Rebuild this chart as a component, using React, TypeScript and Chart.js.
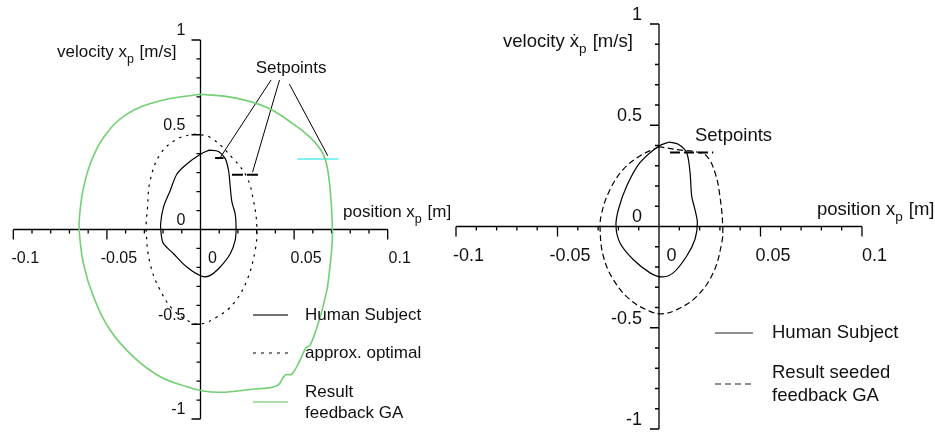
import React, { useEffect, useRef } from 'react';
import { Chart, registerables } from 'chart.js';
Chart.register(...registerables);

// ---------- axes ----------
const X_MIN = -0.1;
const X_MAX = 0.1;
const Y_MIN = -1;
const Y_MAX = 1;
const X_TICKS = [-0.1, -0.05, 0, 0.05, 0.1];
const X_TICK_LABELS = ['-0.1', '-0.05', '0', '0.05', '0.1'];
const Y_TICKS = [-1, -0.5, 0, 0.5, 1];
const Y_TICK_LABELS = ['-1', '-0.5', '0', '0.5', '1'];
const X_MINOR_STEP = 0.01;
const Y_MINOR_STEP = 0.1;

// ---------- left panel data ----------
const L_HUMAN_X = [0.0046, 0.0002, -0.0073, -0.0126, -0.0162, -0.0198, -0.0213, -0.0208, -0.0198, -0.0144, -0.0073, 0.0007, 0.0052, 0.0105, 0.0159, 0.0185, 0.019, 0.0185, 0.0168, 0.0159, 0.015, 0.0132, 0.0096, 0.0046];
const L_HUMAN_V = [0.419, 0.398, 0.346, 0.293, 0.205, 0.117, 0.03, -0.04, -0.075, -0.128, -0.198, -0.247, -0.242, -0.198, -0.128, -0.058, 0.012, 0.084, 0.144, 0.223, 0.31, 0.374, 0.412, 0.419];

const L_OPT_X = [-0.0037, 0.0052, 0.0176, 0.0248, 0.0283, 0.0301, 0.0292, 0.0248, 0.0176, 0.0088, -0.0002, -0.0055, -0.0144, -0.0215, -0.0269, -0.029, -0.0283, -0.0269, -0.0215, -0.0126, -0.0037];
const L_OPT_V = [0.504, 0.486, 0.372, 0.275, 0.153, 0.012, -0.11, -0.268, -0.391, -0.462, -0.5, -0.488, -0.426, -0.321, -0.181, -0.005, 0.117, 0.258, 0.398, 0.477, 0.504];

const L_GA_X = [-0.0002, 0.0176, 0.0355, 0.0497, 0.0586, 0.0639, 0.0666, 0.0683, 0.0696, 0.0705, 0.0702, 0.0683, 0.0675, 0.0639, 0.0586, 0.0564, 0.0532, 0.0488, 0.0452, 0.0408, 0.0265, 0.0105, 0.0007, -0.0073, -0.0215, -0.0358, -0.0482, -0.0571, -0.0625, -0.0648, -0.0645, -0.0628, -0.0589, -0.0518, -0.0393, -0.0215, -0.0002];
const L_GA_V = [0.714, 0.696, 0.644, 0.556, 0.486, 0.425, 0.372, 0.293, 0.17, -0.005, -0.093, -0.268, -0.321, -0.462, -0.611, -0.623, -0.689, -0.763, -0.768, -0.825, -0.844, -0.859, -0.851, -0.83, -0.777, -0.672, -0.532, -0.356, -0.181, -0.005, 0.083, 0.205, 0.346, 0.486, 0.609, 0.679, 0.714];

// setpoint markers (left)
const L_SP_HUMAN_X = [0.0078, 0.0123];
const L_SP_HUMAN_V = [0.377, 0.377];
const L_SP_OPT_X = [0.0168, 0.031];
const L_SP_OPT_V = [0.289, 0.289];
const L_SP_GA_X = [0.0518, 0.0737];
const L_SP_GA_V = [0.372, 0.372];
// leader lines from "Setpoints" label
const L_LEAD1_X = [0.0377, 0.0105];
const L_LEAD1_V = [0.789, 0.379];
const L_LEAD2_X = [0.0422, 0.0278];
const L_LEAD2_V = [0.789, 0.302];
const L_LEAD3_X = [0.0475, 0.068];
const L_LEAD3_V = [0.767, 0.389];

// ---------- right panel data ----------
const R_HUMAN_X = [0.0051, 0, -0.0094, -0.0159, -0.02, -0.0212, -0.0192, -0.0127, -0.0044, 0.0013, 0.007, 0.0136, 0.0177, 0.0189, 0.0177, 0.0161, 0.0153, 0.0136, 0.0095, 0.0051];
const R_HUMAN_V = [0.417, 0.398, 0.315, 0.2, 0.084, 0.001, -0.081, -0.163, -0.229, -0.249, -0.229, -0.147, -0.064, 0.018, 0.084, 0.15, 0.266, 0.365, 0.406, 0.417];

const R_GA_X = [0, -0.0094, -0.0176, -0.0241, -0.0282, -0.029, -0.0274, -0.0225, -0.0143, -0.0044, 0.0013, 0.0087, 0.0186, 0.0267, 0.0309, 0.0314, 0.03, 0.0276, 0.0235, 0.0186, 0.01, 0];
const R_GA_V = [0.394, 0.348, 0.282, 0.183, 0.068, -0.015, -0.147, -0.262, -0.361, -0.419, -0.431, -0.411, -0.345, -0.229, -0.081, 0.0, 0.15, 0.266, 0.348, 0.368, 0.378, 0.394];

const R_SP_X = [0.0054, 0.0267];
const R_SP_V = [0.365, 0.365];

// ---------- texts ----------
const L_LEGEND = [['Human Subject'], ['approx. optimal'], ['Result', 'feedback GA']];
const R_LEGEND = [['Human Subject'], ['Result seeded', 'feedback GA']];
const SETPOINTS_TEXT = 'Setpoints';

const FONT = '"Liberation Sans", Arial, Helvetica, sans-serif';
const GREEN = '#72cf72';
const CYAN = '#80f0f0';

type Part = { t: string; sub?: boolean };

function pts(xs: number[], vs: number[]) {
  return xs.map((x, i) => ({ x, y: vs[i] }));
}

function lineDs(label: string, xs: number[], vs: number[], color: string, width: number, dash: number[], tension: number) {
  return {
    label,
    data: pts(xs, vs),
    showLine: true,
    borderColor: color,
    backgroundColor: color,
    borderWidth: width,
    borderDash: dash,
    pointRadius: 0,
    pointHoverRadius: 0,
    tension,
    fill: false,
  };
}

type LegendItem = { lines: string[]; sampleY: number; textYs: number[]; color: string; dash: number[]; width: number };

type PanelCfg = {
  tickPx: number;
  textPx: number;
  subPx: number;
  subDy: number;
  yLabelGap: number;
  xLabelDx: number;
  xLabelDy: number;
  yTitle: { x: number; y: number; parts: Part[] };
  xTitle: { x: number; y: number; parts: Part[] };
  legend: { x1: number; x2: number; textX: number; items: LegendItem[] };
  setpointText: { x: number; v: number };
};

function drawRich(ctx: CanvasRenderingContext2D, cfg: PanelCfg, x: number, y: number, parts: Part[]) {
  let cx = x;
  ctx.textAlign = 'left';
  ctx.textBaseline = 'alphabetic';
  for (const p of parts) {
    ctx.font = p.sub ? `${cfg.subPx}px ${FONT}` : `${cfg.textPx}px ${FONT}`;
    ctx.fillText(p.t, cx, p.sub ? y + cfg.subDy : y);
    cx += ctx.measureText(p.t).width + (p.sub ? 1 : 0);
  }
}

function isMajor(v: number, majors: number[]) {
  return majors.some((m) => Math.abs(m - v) < 1e-9);
}

function makePlugin(cfg: PanelCfg) {
  return {
    id: 'phaseDecor',
    beforeDatasetsDraw(chart: any) {
      const ctx: CanvasRenderingContext2D = chart.ctx;
      const xs = chart.scales.x;
      const ys = chart.scales.y;
      const x0 = xs.getPixelForValue(0);
      const y0 = ys.getPixelForValue(0);
      ctx.save();
      ctx.strokeStyle = '#000';
      ctx.lineWidth = 1.3;
      ctx.setLineDash([]);
      ctx.beginPath();
      ctx.moveTo(xs.getPixelForValue(X_MIN), y0);
      ctx.lineTo(xs.getPixelForValue(X_MAX), y0);
      ctx.moveTo(x0, ys.getPixelForValue(Y_MIN));
      ctx.lineTo(x0, ys.getPixelForValue(Y_MAX));
      const nx = Math.round((X_MAX - X_MIN) / X_MINOR_STEP);
      for (let i = 0; i <= nx; i++) {
        const v = X_MIN + i * X_MINOR_STEP;
        const px = xs.getPixelForValue(v);
        ctx.moveTo(px, y0);
        ctx.lineTo(px, y0 + (isMajor(v, X_TICKS) ? 10 : 4));
      }
      const ny = Math.round((Y_MAX - Y_MIN) / Y_MINOR_STEP);
      for (let i = 0; i <= ny; i++) {
        const v = Y_MIN + i * Y_MINOR_STEP;
        const py = ys.getPixelForValue(v);
        ctx.moveTo(x0, py);
        ctx.lineTo(x0 - (isMajor(v, Y_TICKS) ? 9 : 4), py);
      }
      ctx.stroke();

      ctx.fillStyle = '#111';
      ctx.font = `${cfg.tickPx}px ${FONT}`;
      ctx.textBaseline = 'middle';
      ctx.textAlign = 'center';
      X_TICKS.forEach((t, i) => {
        ctx.fillText(X_TICK_LABELS[i], xs.getPixelForValue(t) + cfg.xLabelDx, y0 + cfg.xLabelDy);
      });
      ctx.textAlign = 'right';
      Y_TICKS.forEach((t, i) => {
        ctx.fillText(Y_TICK_LABELS[i], x0 - cfg.yLabelGap, ys.getPixelForValue(t) - 9);
      });
      ctx.restore();
    },
    afterDatasetsDraw(chart: any) {
      const ctx: CanvasRenderingContext2D = chart.ctx;
      const xs = chart.scales.x;
      const ys = chart.scales.y;
      ctx.save();
      ctx.fillStyle = '#111';
      drawRich(ctx, cfg, cfg.yTitle.x, cfg.yTitle.y, cfg.yTitle.parts);
      drawRich(ctx, cfg, cfg.xTitle.x, cfg.xTitle.y, cfg.xTitle.parts);

      ctx.font = `${cfg.textPx}px ${FONT}`;
      ctx.textAlign = 'center';
      ctx.textBaseline = 'middle';
      ctx.fillText(SETPOINTS_TEXT, xs.getPixelForValue(cfg.setpointText.x), ys.getPixelForValue(cfg.setpointText.v));

      const lg = cfg.legend;
      for (const it of lg.items) {
        ctx.beginPath();
        ctx.strokeStyle = it.color;
        ctx.lineWidth = it.width;
        ctx.setLineDash(it.dash);
        ctx.moveTo(lg.x1, it.sampleY);
        ctx.lineTo(lg.x2, it.sampleY);
        ctx.stroke();
        ctx.setLineDash([]);
        ctx.textAlign = 'left';
        ctx.textBaseline = 'middle';
        ctx.fillStyle = '#111';
        ctx.font = `${cfg.textPx}px ${FONT}`;
        it.lines.forEach((ln, j) => ctx.fillText(ln, lg.textX, it.textYs[j]));
      }
      ctx.restore();
    },
  };
}

function baseOptions(padding: { left: number; right: number; top: number; bottom: number }) {
  return {
    responsive: false,
    animation: false as const,
    events: [] as any[],
    layout: { padding },
    plugins: { legend: { display: false }, tooltip: { enabled: false }, title: { display: false } },
    scales: {
      x: { type: 'linear' as const, min: X_MIN, max: X_MAX, display: false },
      y: { type: 'linear' as const, min: Y_MIN, max: Y_MAX, display: false },
    },
  };
}

const LEFT_W = 480;
const RIGHT_W = 495;

function leftConfig(): any {
  const cfg: PanelCfg = {
    tickPx: 16,
    textPx: 17,
    subPx: 12.5,
    subDy: 6,
    yLabelGap: 15,
    xLabelDx: 12,
    xLabelDy: 29,
    yTitle: { x: 57, y: 57, parts: [{ t: 'velocity x' }, { t: 'p', sub: true }, { t: ' [m/s]' }] },
    xTitle: { x: 343, y: 217, parts: [{ t: 'position x' }, { t: 'p', sub: true }, { t: ' [m]' }] },
    legend: {
      x1: 253,
      x2: 288,
      textX: 305,
      items: [
        { lines: L_LEGEND[0], sampleY: 315, textYs: [315], color: '#444', dash: [], width: 1.4 },
        { lines: L_LEGEND[1], sampleY: 353, textYs: [353], color: '#000', dash: [3, 5], width: 1.2 },
        { lines: L_LEGEND[2], sampleY: 402, textYs: [392, 413], color: '#a8e2a8', dash: [], width: 2 },
      ],
    },
    setpointText: { x: 0.0484, v: 0.853 },
  };
  return {
    type: 'scatter',
    data: {
      datasets: [
        lineDs('Result feedback GA', L_GA_X, L_GA_V, GREEN, 1.6, [], 0.4),
        lineDs('approx. optimal', L_OPT_X, L_OPT_V, '#000', 1.2, [2.5, 5], 0.4),
        lineDs('Human Subject', L_HUMAN_X, L_HUMAN_V, '#000', 1.2, [], 0.3),
        lineDs('Setpoint GA', L_SP_GA_X, L_SP_GA_V, CYAN, 2, [], 0),
        lineDs('Setpoint optimal', L_SP_OPT_X, L_SP_OPT_V, '#000', 2, [11, 4], 0),
        lineDs('Setpoint human', L_SP_HUMAN_X, L_SP_HUMAN_V, '#000', 2, [], 0),
        lineDs('lead1', L_LEAD1_X, L_LEAD1_V, '#000', 1, [], 0),
        lineDs('lead2', L_LEAD2_X, L_LEAD2_V, '#000', 1, [], 0),
        lineDs('lead3', L_LEAD3_X, L_LEAD3_V, '#000', 1, [], 0),
      ],
    },
    options: baseOptions({ left: 13.3, right: LEFT_W - 387.7, top: 40, bottom: 13 }),
    plugins: [makePlugin(cfg)],
  };
}

function rightConfig(): any {
  const cfg: PanelCfg = {
    tickPx: 18,
    textPx: 18.5,
    subPx: 13.5,
    subDy: 6,
    yLabelGap: 17,
    xLabelDx: 12.5,
    xLabelDy: 30,
    yTitle: { x: 63, y: 47, parts: [{ t: 'velocity \u1E8B' }, { t: 'p', sub: true }, { t: ' [m/s]' }] },
    xTitle: { x: 377, y: 215, parts: [{ t: 'position x' }, { t: 'p', sub: true }, { t: ' [m]' }] },
    legend: {
      x1: 275,
      x2: 313,
      textX: 332,
      items: [
        { lines: R_LEGEND[0], sampleY: 333, textYs: [333], color: '#222', dash: [], width: 1.2 },
        { lines: R_LEGEND[1], sampleY: 384, textYs: [373, 396], color: '#222', dash: [6, 4], width: 1.2 },
      ],
    },
    setpointText: { x: 0.0367, v: 0.446 },
  };
  return {
    type: 'scatter',
    data: {
      datasets: [
        lineDs('Result seeded feedback GA', R_GA_X, R_GA_V, '#000', 1.2, [6, 3.5], 0.4),
        lineDs('Human Subject', R_HUMAN_X, R_HUMAN_V, '#000', 1.2, [], 0.3),
        lineDs('Setpoint', R_SP_X, R_SP_V, '#000', 2, [10, 4], 0),
      ],
    },
    options: baseOptions({ left: 16, right: 73, top: 24, bottom: 3 }),
    plugins: [makePlugin(cfg)],
  };
}

export default function App() {
  const leftRef = useRef<HTMLCanvasElement>(null);
  const rightRef = useRef<HTMLCanvasElement>(null);
  useEffect(() => {
    const c1 = new Chart(leftRef.current as HTMLCanvasElement, leftConfig());
    const c2 = new Chart(rightRef.current as HTMLCanvasElement, rightConfig());
    return () => {
      c1.destroy();
      c2.destroy();
    };
  }, []);
  return (
    <div style={{ position: 'absolute', left: 0, top: 0, width: 935, height: 432, background: '#fff', overflow: 'hidden' }}>
      <canvas ref={leftRef} width={LEFT_W} height={432} style={{ position: 'absolute', left: 0, top: 0 }} />
      <canvas ref={rightRef} width={RIGHT_W} height={432} style={{ position: 'absolute', left: 440, top: 0 }} />
    </div>
  );
}
